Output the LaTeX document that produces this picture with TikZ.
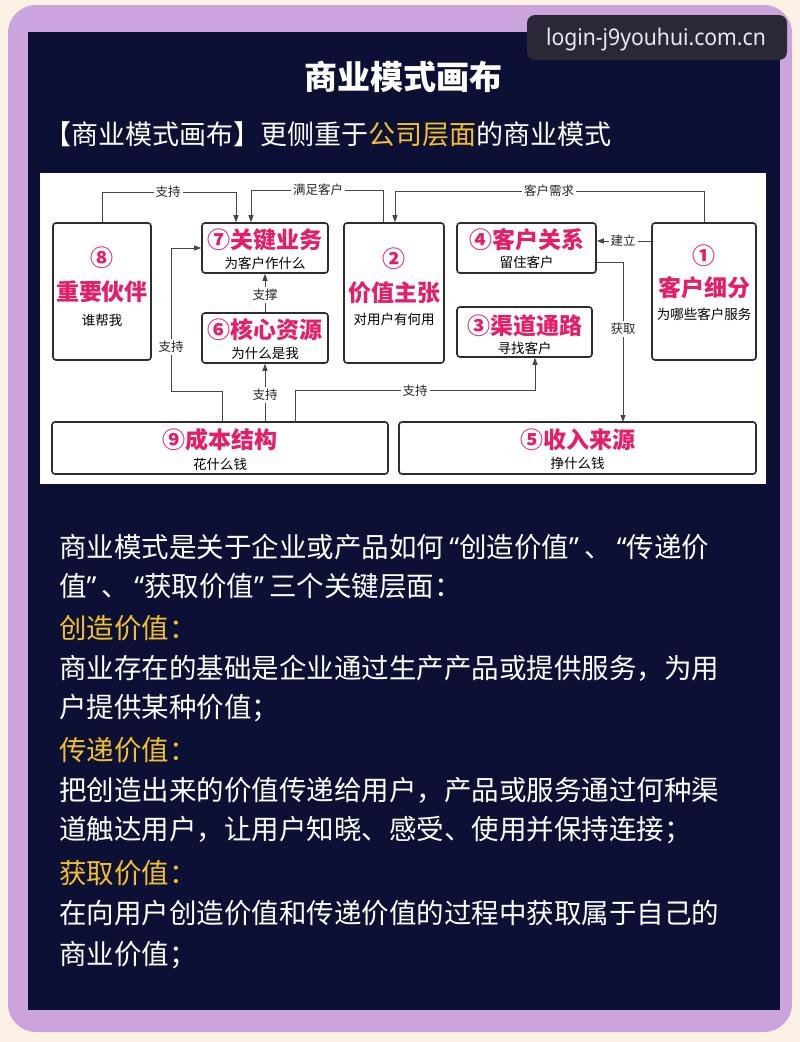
\documentclass[tikz,border=0pt]{standalone}
\usepackage{fontspec}
\setmainfont{Noto Sans CJK SC}
\newfontfamily\wmfont{Noto Sans}
\newfontfamily\qfont{Noto Sans}
\newcommand{\oq}{\makebox[15pt][r]{\qfont “}}
\newcommand{\cq}{\makebox[15pt][l]{\qfont ”}}
\usetikzlibrary{arrows.meta,calc}
\definecolor{cream}{RGB}{251,241,228}
\definecolor{lav}{RGB}{203,163,221}
\definecolor{navy}{RGB}{11,16,52}
\definecolor{gold}{RGB}{242,192,45}
\definecolor{pinkt}{RGB}{228,30,105}
\definecolor{boxline}{RGB}{45,45,45}
\definecolor{conline}{RGB}{70,70,70}
\definecolor{wmbox}{RGB}{42,40,52}
\definecolor{wmtext}{RGB}{235,232,245}
\begin{document}
\begin{tikzpicture}[x=1pt,y=-1pt,
  box/.style={draw=boxline,line width=1.6pt,rounded corners=3pt,fill=white,inner sep=0pt},
  ttl/.style={text=pinkt,font=\fontsize{23}{23}\selectfont\bfseries,inner sep=0pt},
  sub/.style={text=black,font=\fontsize{13.5}{13.5}\selectfont,inner sep=0pt},
  conn/.style={draw=conline,line width=0.9pt,-{Triangle[length=7pt,width=5pt]}},
  plain/.style={draw=conline,line width=0.9pt},
  lbl/.style={fill=white,inner sep=2pt,font=\fontsize{12.5}{12.5}\selectfont,text=black!85},
  body/.style={text=white,font=\fontsize{27.5}{27.5}\selectfont,anchor=west,inner sep=0pt},
  gbody/.style={body,text=gold}
]
\useasboundingbox (0,0) rectangle (800,1042);
\fill[cream] (0,0) rectangle (800,1042);
\fill[lav,rounded corners=28pt] (8,5) rectangle (792,1032);
\fill[navy] (28,32) rectangle (780,1010);
% watermark
\fill[wmbox,rounded corners=8pt] (527,15) rectangle (787,60);
\node[text=wmtext,font=\wmfont\fontsize{23}{23}\selectfont,inner sep=0pt,xscale=0.92] (wm) at (656,40) {login-j9youhui.com.cn};
% title
\node[text=white,font=\fontsize{33}{33}\selectfont\bfseries,inner sep=0pt] (title) at (403,77) {商业模式画布};
\node[text=white,font=\fontsize{27}{27}\selectfont,anchor=west,inner sep=0pt] (subt) at (44,134) {【商业模式画布】更侧重于\textcolor{gold}{公司层面}的商业模式};
% diagram panel
\fill[white] (40,173) rectangle (766,484);
% boxes
\node[box,minimum width=98pt,minimum height=137pt] (b8) at (102,291.5) {};
\node[box,minimum width=126pt,minimum height=50pt] (b7) at (265,248) {};
\node[box,minimum width=126pt,minimum height=50pt] (b6) at (265,338) {};
\node[box,minimum width=100pt,minimum height=140pt] (b2) at (394,293) {};
\node[box,minimum width=139pt,minimum height=50pt] (b4) at (526.5,248) {};
\node[box,minimum width=135pt,minimum height=50pt] (b3) at (524.5,332) {};
\node[box,minimum width=104pt,minimum height=137pt] (b1) at (704,291.5) {};
\node[box,minimum width=336pt,minimum height=52pt] (b9) at (220,448) {};
\node[box,minimum width=357pt,minimum height=52pt] (b5) at (577.5,448) {};
% box texts
\node[ttl] (t8a) at (102,258) {⑧};
\node[ttl] (t8b) at (102,292) {重要伙伴};
\node[sub] (s8) at (102,320) {谁帮我};
\node[ttl] (t7) at (265,240) {⑦关键业务};
\node[sub] (s7) at (265,263) {为客户作什么};
\node[ttl] (t6) at (265,330) {⑥核心资源};
\node[sub] (s6) at (265,353) {为什么是我};
\node[ttl] (t2a) at (394,259) {②};
\node[ttl] (t2b) at (394,293) {价值主张};
\node[sub] (s2) at (394,319) {对用户有何用};
\node[ttl] (t4) at (526.5,240) {④客户关系};
\node[sub] (s4) at (526.5,262) {留住客户};
\node[ttl] (t3) at (524.5,326) {③渠道通路};
\node[sub] (s3) at (524.5,348) {寻找客户};
\node[ttl] (t1a) at (704,256) {①};
\node[ttl] (t1b) at (704,288) {客户细分};
\node[sub] (s1) at (704,314) {为哪些客户服务};
\node[ttl] (t9) at (220,440) {⑨成本结构};
\node[sub] (s9) at (220,464) {花什么钱};
\node[ttl] (t5) at (577.5,440) {⑤收入来源};
\node[sub] (s5) at (577.5,463) {挣什么钱};
% connectors
\draw[conn] (b8.north) -- (102,192) -| ([xshift=-29pt]b7.north);
\draw[conn] ([xshift=-11pt]b2.north) -- (383,190) -| ([xshift=-14pt]b7.north);
\draw[conn] (b1.north) -- (704,191) -| ([xshift=1pt]b2.north);
\draw[conn] (b1.west |- 0,241) -- (b4.east |- 0,241);
\draw[conn] (b4.east |- 0,262) -- (623,262) -- (623,422);
\draw[conn] (b6.north) -- (b7.south);
\draw[conn] (b9.north -| 265,0) -- (b6.south);
\draw[conn] (222,422) -- (222,391) -- (171,391) -- (171,248) -- (b7.west);
\draw[conn] (295,422) -- (295,390) -| (b3.south -| 535,0);
% labels
\node[lbl] (l1) at (168,192) {支持};
\node[lbl] (l2) at (318,190) {满足客户};
\node[lbl] (l3) at (549,191) {客户需求};
\node[lbl] (l4) at (623,241) {建立};
\node[lbl] (l5) at (623,329) {获取};
\node[lbl] (l6) at (265,295) {支撑};
\node[lbl] (l7) at (265,395) {支持};
\node[lbl] (l8) at (171,347) {支持};
\node[lbl] (l9) at (415,391) {支持};
% body text
\node[body] (p1) at (59,547) {商业模式是关于企业或产品如何\oq 创造价值\cq 、\oq 传递价};
\node[body] (p2) at (59,586) {值\cq 、\oq 获取价值\cq 三个关键层面：};
\node[gbody] (p3) at (59,628) {创造价值：};
\node[body] (p4) at (59,668) {商业存在的基础是企业通过生产产品或提供服务，为用};
\node[body] (p5) at (59,708) {户提供某种价值；};
\node[gbody] (p6) at (59,750) {传递价值：};
\node[body] (p7) at (59,790) {把创造出来的价值传递给用户，产品或服务通过何种渠};
\node[body] (p8) at (59,830) {道触达用户，让用户知晓、感受、使用并保持连接；};
\node[gbody] (p9) at (59,873) {获取价值：};
\node[body] (p10) at (59,913) {在向用户创造价值和传递价值的过程中获取属于自己的};
\node[body] (p11) at (59,955) {商业价值；};
\end{tikzpicture}
\end{document}
